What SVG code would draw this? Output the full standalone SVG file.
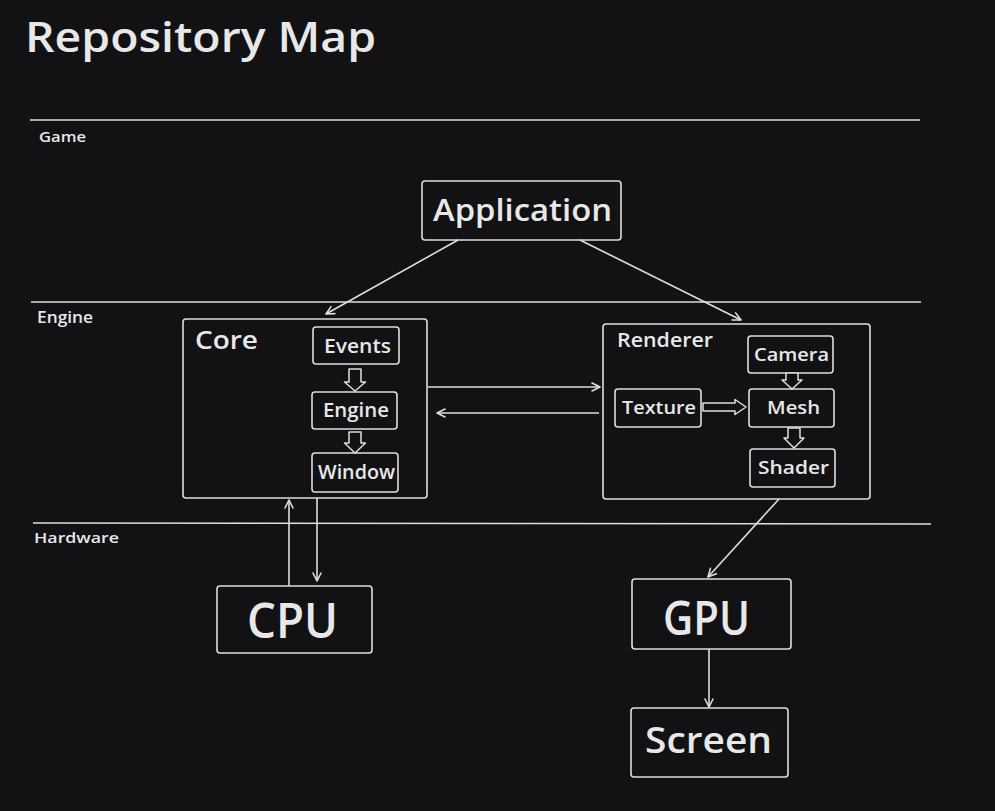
<svg xmlns="http://www.w3.org/2000/svg" width="995" height="811" viewBox="0 0 995 811">
<defs>
<style>
.bg{fill:#121214}
.box{fill:none;stroke:#dedede;stroke-width:1.6}
.ln{fill:none;stroke:#dedede;stroke-width:1.6}
.blk{fill:#121214;stroke:#dedede;stroke-width:1.5;stroke-linejoin:round}
.t{fill:#e8e8e8;font-family:"Open Sans","Noto Sans",sans-serif;font-weight:600}
</style>
<marker id="ah" viewBox="-10 -6 12 12" refX="0" refY="0" markerWidth="12" markerHeight="12" markerUnits="userSpaceOnUse" orient="auto">
<path d="M-8,-4 L0,0 L-8,4" fill="none" stroke="#dedede" stroke-width="1.6" stroke-linecap="round" stroke-linejoin="round"/>
</marker>
</defs>
<rect class="bg" x="0" y="0" width="995" height="811"/>
<text class="t" x="25" y="52" font-size="42" textLength="351" lengthAdjust="spacingAndGlyphs">Repository Map</text>

<g id="lanes">
<line class="ln" x1="30" y1="120" x2="920" y2="120"/>
<line class="ln" x1="31" y1="302" x2="921" y2="302"/>
<line class="ln" x1="33" y1="523" x2="931" y2="524"/>
<text class="t" x="39" y="142" font-size="15" textLength="47" lengthAdjust="spacingAndGlyphs">Game</text>
<text class="t" x="37" y="323" font-size="16" textLength="56" lengthAdjust="spacingAndGlyphs">Engine</text>
<text class="t" x="34" y="543" font-size="15" textLength="85" lengthAdjust="spacingAndGlyphs">Hardware</text>
</g>

<g id="application">
<rect class="box" x="422" y="181" width="199" height="59" rx="3"/>
<text class="t" x="433" y="221" font-size="30" textLength="179" lengthAdjust="spacingAndGlyphs">Application</text>
</g>

<g id="core">
<rect class="box" x="183" y="319" width="244" height="179" rx="3"/>
<text class="t" x="195" y="349" font-size="26" textLength="63" lengthAdjust="spacingAndGlyphs">Core</text>
</g>
<g id="events">
<rect class="box" x="313" y="327" width="86" height="37" rx="3"/>
<text class="t" x="324" y="353" font-size="19" textLength="67" lengthAdjust="spacingAndGlyphs">Events</text>
</g>
<g id="engine">
<rect class="box" x="312" y="392" width="85" height="37" rx="3"/>
<text class="t" x="323" y="417" font-size="19" textLength="66" lengthAdjust="spacingAndGlyphs">Engine</text>
</g>
<g id="window">
<rect class="box" x="312" y="453" width="86" height="39" rx="3"/>
<text class="t" x="318" y="479" font-size="19" textLength="77" lengthAdjust="spacingAndGlyphs">Window</text>
</g>

<g id="renderer">
<rect class="box" x="603" y="324" width="267" height="175" rx="3"/>
<text class="t" x="617" y="347" font-size="19" textLength="96" lengthAdjust="spacingAndGlyphs">Renderer</text>
</g>
<g id="camera">
<rect class="box" x="748" y="336" width="85" height="37" rx="3"/>
<text class="t" x="754" y="361" font-size="18" textLength="75" lengthAdjust="spacingAndGlyphs">Camera</text>
</g>
<g id="texture">
<rect class="box" x="615" y="389" width="86" height="38" rx="3"/>
<text class="t" x="622" y="414" font-size="18" textLength="74" lengthAdjust="spacingAndGlyphs">Texture</text>
</g>
<g id="mesh">
<rect class="box" x="749" y="389" width="85" height="38" rx="3"/>
<text class="t" x="767" y="414" font-size="18" textLength="53" lengthAdjust="spacingAndGlyphs">Mesh</text>
</g>
<g id="shader">
<rect class="box" x="750" y="449" width="85" height="38" rx="3"/>
<text class="t" x="758" y="474" font-size="18" textLength="71" lengthAdjust="spacingAndGlyphs">Shader</text>
</g>

<g id="cpu">
<rect class="box" x="217" y="586" width="155" height="67" rx="3"/>
<text class="t" x="247" y="638" font-size="48" textLength="91" lengthAdjust="spacingAndGlyphs">CPU</text>
</g>
<g id="gpu">
<rect class="box" x="632" y="579" width="159" height="70" rx="3"/>
<text class="t" x="663" y="635" font-size="47" textLength="87" lengthAdjust="spacingAndGlyphs">GPU</text>
</g>
<g id="screen">
<rect class="box" x="631" y="708" width="157" height="69" rx="3"/>
<text class="t" x="645" y="753" font-size="36" textLength="127" lengthAdjust="spacingAndGlyphs">Screen</text>
</g>

<g id="connectors">
<line class="ln" x1="458" y1="240" x2="326" y2="314" marker-end="url(#ah)"/>
<line class="ln" x1="580" y1="240" x2="741" y2="320" marker-end="url(#ah)"/>
<line class="ln" x1="428" y1="387" x2="600" y2="387" marker-end="url(#ah)"/>
<line class="ln" x1="599" y1="413" x2="437" y2="413" marker-end="url(#ah)"/>
<line class="ln" x1="289" y1="586" x2="289" y2="500" marker-end="url(#ah)"/>
<line class="ln" x1="317" y1="498" x2="317" y2="581" marker-end="url(#ah)"/>
<line class="ln" x1="779" y1="499" x2="708" y2="577" marker-end="url(#ah)"/>
<line class="ln" x1="709" y1="649" x2="709" y2="707" marker-end="url(#ah)"/>
<path class="blk" d="M349,369 L361,369 L361,382 L365.5,382 L355,391 L344.5,382 L349,382 Z"/>
<path class="blk" d="M349,432 L361,432 L361,443 L365.5,443 L355,453 L344.5,443 L349,443 Z"/>
<path class="blk" d="M786,373 L798,373 L798,380 L802,380 L792,389 L782,380 L786,380 Z"/>
<path class="blk" d="M788,428 L800,428 L800,438 L804,438 L794,448 L784,438 L788,438 Z"/>
<path class="blk" d="M703,403 L735,403 L735,399.5 L746,407 L735,414.5 L735,411 L703,411 Z"/>
</g>
</svg>
